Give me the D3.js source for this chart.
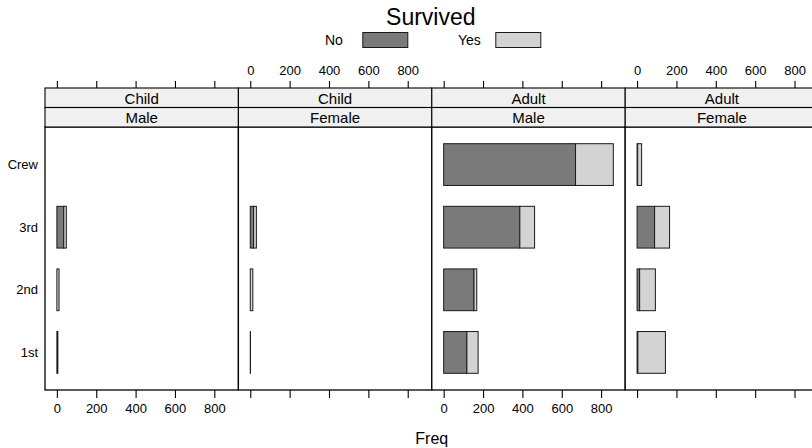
<!DOCTYPE html>
<html>
<head>
<meta charset="utf-8">
<script src="https://cdn.jsdelivr.net/npm/d3@7"></script>
<style>
  html, body { margin: 0; padding: 0; background: #fff; }
  svg { display: block; font-family: "Liberation Sans", Arial, Helvetica, sans-serif; }
</style>
</head>
<body>
<svg id="chart" width="812" height="448"></svg>
<script>
// Titanic passengers, stacked by survival, one panel per age/sex group
const classes = ["1st", "2nd", "3rd", "Crew"];
const panelAge = ["Child", "Child", "Adult", "Adult"];
const panelSex = ["Male", "Female", "Male", "Female"];
const survivedLevels = ["No", "Yes"];
// counts per class (1st, 2nd, 3rd, Crew) for each panel
const noCounts = [
  [0, 0, 35, 0],
  [0, 0, 17, 0],
  [118, 154, 387, 670],
  [4, 13, 89, 3]
];
const yesCounts = [
  [5, 11, 13, 0],
  [1, 13, 14, 0],
  [57, 14, 75, 192],
  [140, 80, 76, 20]
];
const tickValues = [0, 200, 400, 600, 800];
const fills = ["#7a7a7a", "#d3d3d3"];

const svg = d3.select("#chart");

const plotLeft = 45, panelW = 193.4;
const panelTop = 127, panelBottom = 390;
const strip1Top = 88, strip2Top = 107.5;

// shared x range, padded as trellis plots do
const maxTotal = d3.max(noCounts.map((r, i) => d3.max(r.map((v, j) => v + yesCounts[i][j]))));
const pad = maxTotal * 0.07;
const xDomain = [-pad, maxTotal + pad];

const y = d3.scaleLinear().domain([0.4, classes.length + 0.6]).range([panelBottom, panelTop]);
const barH = (y(0) - y(1)) * 2 / 3;

// category labels on the left
svg.append("g").selectAll("text").data(classes).join("text")
  .attr("x", 38).attr("y", (d, i) => y(i + 1))
  .attr("text-anchor", "end").attr("dominant-baseline", "central")
  .attr("font-size", 13).attr("fill", "#000")
  .text(d => d);

for (let p = 0; p < 4; p++) {
  const x0 = plotLeft + p * panelW;
  const x = d3.scaleLinear().domain(xDomain).range([x0, x0 + panelW]);
  const g = svg.append("g");

  // panel background & border
  g.append("rect").attr("x", x0).attr("y", panelTop).attr("width", panelW)
    .attr("height", panelBottom - panelTop).attr("fill", "#fff");

  // stacked bars
  classes.forEach((c, i) => {
    const parts = [noCounts[p][i], yesCounts[p][i]];
    let start = 0;
    parts.forEach((v, k) => {
      if (v > 0) {
        g.append("rect")
          .attr("x", x(start)).attr("y", y(i + 1) - barH / 2)
          .attr("width", x(start + v) - x(start)).attr("height", barH)
          .attr("fill", fills[k]).attr("stroke", "#1a1a1a").attr("stroke-width", 1);
      }
      start += v;
    });
  });

  g.append("rect").attr("x", x0).attr("y", panelTop).attr("width", panelW)
    .attr("height", panelBottom - panelTop).attr("fill", "none")
    .attr("stroke", "#000").attr("stroke-width", 1.3);

  // strips
  [[strip1Top, panelAge[p]], [strip2Top, panelSex[p]]].forEach(([top, label], k) => {
    const h = k === 0 ? strip2Top - strip1Top : panelTop - strip2Top;
    g.append("rect").attr("x", x0).attr("y", top).attr("width", panelW).attr("height", h)
      .attr("fill", "#f0f0f0").attr("stroke", "#000").attr("stroke-width", 1.1);
    g.append("text").attr("x", x0 + panelW / 2).attr("y", top + h / 2 + 0.5)
      .attr("text-anchor", "middle").attr("dominant-baseline", "central")
      .attr("font-size", 15).attr("fill", "#000").text(label);
  });

  // alternating axes: bottom labels on panels 1 & 3, top labels on panels 2 & 4
  const bottomLabels = p % 2 === 0;
  const axB = d3.axisBottom(x).tickValues(tickValues).tickSize(8).tickPadding(6)
    .tickFormat(bottomLabels ? d3.format("d") : () => "");
  const axT = d3.axisTop(x).tickValues(tickValues).tickSize(7).tickPadding(6)
    .tickFormat(bottomLabels ? () => "" : d3.format("d"));
  const gb = g.append("g").attr("transform", `translate(0,${panelBottom})`).call(axB);
  const gt = g.append("g").attr("transform", `translate(0,${strip1Top})`).call(axT);
  [gb, gt].forEach(a => {
    a.select(".domain").remove();
    a.selectAll("line").attr("stroke", "#000").attr("stroke-width", 1.1);
    a.selectAll("text").attr("font-size", 13).attr("fill", "#000")
      .attr("font-family", "Liberation Sans, Arial, sans-serif");
  });
}

// x-axis title
const midX = plotLeft + 2 * panelW;
svg.append("text").attr("x", midX).attr("y", 438)
  .attr("text-anchor", "middle").attr("dominant-baseline", "central")
  .attr("font-size", 16).attr("fill", "#000").text("Freq");

// legend
svg.append("text").attr("x", midX - 1).attr("y", 25)
  .attr("text-anchor", "middle").attr("font-size", 23).attr("fill", "#000").text("Survived");
const legendText = [midX - 89, midX + 49];
const legendRect = [midX - 69, midX + 64];
survivedLevels.forEach((lv, k) => {
  svg.append("text").attr("x", legendText[k]).attr("y", 40)
    .attr("text-anchor", "end").attr("dominant-baseline", "central")
    .attr("font-size", 14).attr("fill", "#000").text(lv);
  svg.append("rect").attr("x", legendRect[k]).attr("y", 32.5).attr("width", 45).attr("height", 15)
    .attr("fill", fills[k]).attr("stroke", "#1a1a1a").attr("stroke-width", 1);
});
</script>
</body>
</html>
